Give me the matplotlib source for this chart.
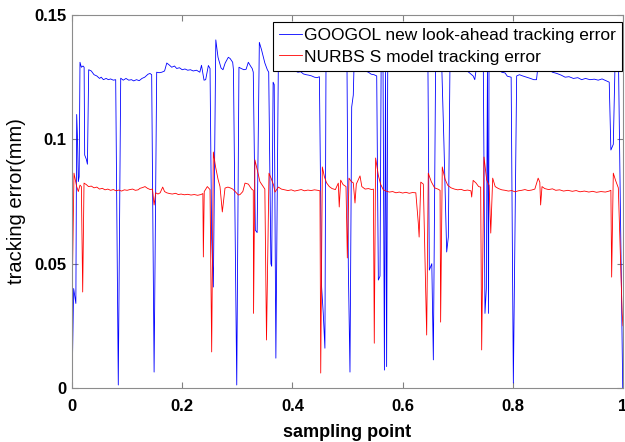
import matplotlib
matplotlib.use("Agg")
import matplotlib.pyplot as plt

plt.rcParams['font.family'] = ['Liberation Sans', 'DejaVu Sans']

# GOOGOL new look-ahead tracking error (blue)
googol_x = [0.000, 0.003, 0.007, 0.0085, 0.010, 0.0115, 0.013, 0.0145, 0.017, 0.020,
            0.022, 0.023, 0.026, 0.028, 0.0303, 0.035, 0.040, 0.045, 0.050, 0.053,
            0.057, 0.062, 0.066, 0.070, 0.075, 0.0793, 0.084, 0.0884, 0.093, 0.098,
            0.103, 0.108, 0.112, 0.117, 0.122, 0.127, 0.132, 0.138, 0.1416, 0.1446,
            0.149, 0.1537, 0.158, 0.163, 0.168, 0.172, 0.176, 0.181, 0.186, 0.190,
            0.195, 0.200, 0.205, 0.210, 0.215, 0.220, 0.226, 0.232, 0.235, 0.2396,
            0.2426, 0.2475, 0.2505, 0.2535, 0.2565, 0.261, 0.265, 0.2705, 0.274, 0.278,
            0.2837, 0.287, 0.2916, 0.293, 0.299, 0.303, 0.307, 0.312, 0.316, 0.320,
            0.324, 0.327, 0.329, 0.3327, 0.336, 0.340, 0.344, 0.350, 0.3545, 0.357,
            0.361, 0.3624, 0.365, 0.367, 0.370, 0.3745, 0.380, 0.385, 0.390, 0.395,
            0.400, 0.405, 0.410, 0.415, 0.420, 0.425, 0.430, 0.435, 0.440, 0.445,
            0.449, 0.453, 0.456, 0.459, 0.461, 0.470, 0.480, 0.490, 0.499, 0.5015,
            0.5045, 0.5076, 0.5105, 0.512, 0.520, 0.527, 0.532, 0.538, 0.543, 0.548,
            0.553, 0.556, 0.559, 0.561, 0.5645, 0.567, 0.569, 0.571, 0.573, 0.580,
            0.590, 0.600, 0.610, 0.620, 0.630, 0.640, 0.646, 0.6485, 0.653, 0.6558,
            0.660, 0.665, 0.671, 0.675, 0.680, 0.683, 0.686, 0.692, 0.700, 0.710,
            0.720, 0.728, 0.731, 0.734, 0.740, 0.7465, 0.7495, 0.752, 0.754, 0.756,
            0.7568, 0.760, 0.770, 0.780, 0.786, 0.790, 0.797, 0.801, 0.807, 0.812,
            0.818, 0.825, 0.832, 0.838, 0.843, 0.846, 0.852, 0.858, 0.865, 0.872,
            0.880, 0.888, 0.895, 0.902, 0.910, 0.918, 0.925, 0.932, 0.940, 0.948,
            0.955, 0.962, 0.970, 0.975, 0.978, 0.9824, 0.9855, 0.9895, 0.992, 0.9995]
googol_y = [0.000, 0.040, 0.034, 0.110, 0.100, 0.083, 0.085, 0.131, 0.129, 0.1295,
            0.129, 0.0937, 0.092, 0.090, 0.128, 0.1275, 0.126, 0.1255, 0.1245, 0.125,
            0.124, 0.1245, 0.124, 0.1243, 0.1238, 0.124, 0.0012, 0.1246, 0.1238, 0.1245,
            0.1238, 0.124, 0.1235, 0.124, 0.1236, 0.1245, 0.125, 0.1262, 0.1265, 0.126,
            0.0064, 0.127, 0.1268, 0.127, 0.1275, 0.1307, 0.130, 0.129, 0.1295, 0.1285,
            0.1288, 0.128, 0.1283, 0.1278, 0.128, 0.1275, 0.1278, 0.127, 0.1298, 0.1238,
            0.124, 0.1297, 0.1285, 0.060, 0.0406, 0.140, 0.133, 0.1287, 0.128, 0.1307,
            0.133, 0.1325, 0.131, 0.128, 0.0012, 0.129, 0.1285, 0.128, 0.1282, 0.131,
            0.1295, 0.1285, 0.127, 0.0635, 0.0625, 0.139, 0.136, 0.1307, 0.128, 0.127,
            0.050, 0.049, 0.123, 0.122, 0.012, 0.131, 0.1305, 0.1298, 0.129, 0.128,
            0.1282, 0.1275, 0.127, 0.1272, 0.1263, 0.126, 0.1258, 0.1255, 0.125, 0.1248,
            0.1252, 0.0406, 0.030, 0.016, 0.132, 0.133, 0.132, 0.1325, 0.132, 0.0487,
            0.0064, 0.113, 0.1178, 0.131, 0.1295, 0.128, 0.1275, 0.127, 0.1262, 0.126,
            0.1255, 0.0434, 0.045, 0.128, 0.127, 0.0072, 0.127, 0.0086, 0.128, 0.1285,
            0.128, 0.1278, 0.1282, 0.128, 0.1285, 0.128, 0.1285, 0.0474, 0.050, 0.0113,
            0.132, 0.131, 0.130, 0.0985, 0.0547, 0.0607, 0.131, 0.130, 0.129, 0.1285,
            0.127, 0.1255, 0.124, 0.129, 0.130, 0.129, 0.030, 0.040, 0.129, 0.030,
            0.128, 0.129, 0.1285, 0.127, 0.1267, 0.1254, 0.125, 0.002, 0.1255, 0.126,
            0.1255, 0.125, 0.1245, 0.124, 0.124, 0.130, 0.129, 0.1288, 0.128, 0.127,
            0.1265, 0.1258, 0.125, 0.1252, 0.1245, 0.1248, 0.124, 0.1245, 0.124, 0.1242,
            0.1238, 0.1243, 0.1235, 0.123, 0.0957, 0.098, 0.130, 0.129, 0.128, 0.000]

# NURBS S model tracking error (red)
nurbs_x = [0.000, 0.0005, 0.0036, 0.0085, 0.0115, 0.0145, 0.017, 0.0194, 0.0218, 0.026,
           0.030, 0.035, 0.040, 0.045, 0.050, 0.055, 0.060, 0.065, 0.070, 0.075,
           0.080, 0.085, 0.090, 0.095, 0.100, 0.105, 0.110, 0.115, 0.120, 0.1234,
           0.128, 0.1325, 0.137, 0.142, 0.146, 0.149, 0.152, 0.156, 0.160, 0.1646,
           0.168, 0.172, 0.177, 0.182, 0.188, 0.193, 0.198, 0.204, 0.210, 0.216,
           0.222, 0.228, 0.234, 0.2375, 0.2384, 0.240, 0.2456, 0.2505, 0.2535, 0.2565,
           0.2605, 0.265, 0.2686, 0.2728, 0.2777, 0.283, 0.288, 0.2916, 0.297, 0.302,
           0.305, 0.310, 0.314, 0.320, 0.326, 0.329, 0.3295, 0.332, 0.337, 0.341,
           0.350, 0.353, 0.3575, 0.362, 0.366, 0.3684, 0.3745, 0.380, 0.386, 0.392,
           0.398, 0.404, 0.410, 0.416, 0.422, 0.428, 0.434, 0.440, 0.446, 0.450,
           0.4514, 0.4543, 0.458, 0.462, 0.467, 0.472, 0.478, 0.4833, 0.485, 0.4876,
           0.492, 0.4973, 0.4997, 0.5027, 0.507, 0.5105, 0.5136, 0.516, 0.5227, 0.526,
           0.532, 0.538, 0.544, 0.547, 0.5486, 0.551, 0.556, 0.560, 0.565, 0.570,
           0.576, 0.582, 0.588, 0.594, 0.600, 0.606, 0.612, 0.618, 0.624, 0.6285,
           0.630, 0.633, 0.6376, 0.6437, 0.6466, 0.652, 0.658, 0.664, 0.668, 0.669,
           0.672, 0.677, 0.682, 0.688, 0.694, 0.700, 0.706, 0.712, 0.718, 0.724,
           0.7254, 0.728, 0.733, 0.738, 0.7417, 0.7435, 0.7477, 0.7526, 0.757, 0.760,
           0.7635, 0.768, 0.774, 0.780, 0.786, 0.792, 0.798, 0.804, 0.810, 0.816,
           0.822, 0.828, 0.834, 0.840, 0.846, 0.849, 0.8505, 0.853, 0.858, 0.865,
           0.872, 0.878, 0.885, 0.892, 0.900, 0.908, 0.915, 0.922, 0.930, 0.938,
           0.945, 0.952, 0.960, 0.968, 0.975, 0.978, 0.9794, 0.9824, 0.9865, 0.9915,
           0.9985, 1.000]
nurbs_y = [0.000, 0.040, 0.0864, 0.081, 0.079, 0.0816, 0.081, 0.0386, 0.0824, 0.0818,
           0.081, 0.0812, 0.0805, 0.0808, 0.0800, 0.0803, 0.0797, 0.080, 0.0795, 0.0798,
           0.0793, 0.0796, 0.0792, 0.0797, 0.0795, 0.0798, 0.080, 0.0795, 0.0797, 0.0803,
           0.0806, 0.081, 0.0803, 0.0798, 0.080, 0.0736, 0.0785, 0.078, 0.0785, 0.0808,
           0.079, 0.0785, 0.0782, 0.078, 0.0783, 0.0778, 0.078, 0.0777, 0.0779, 0.0776,
           0.0778, 0.0775, 0.0778, 0.0782, 0.0527, 0.079, 0.081, 0.0798, 0.0145, 0.0949,
           0.089, 0.084, 0.081, 0.0708, 0.0804, 0.0808, 0.0804, 0.0800, 0.0788, 0.0776,
           0.0778, 0.079, 0.0824, 0.082, 0.080, 0.0795, 0.030, 0.0917, 0.087, 0.083,
           0.080, 0.0193, 0.0864, 0.084, 0.0815, 0.0788, 0.0808, 0.080, 0.0797, 0.0794,
           0.0797, 0.0792, 0.0795, 0.0798, 0.0793, 0.0796, 0.0794, 0.0797, 0.0795, 0.0793,
           0.006, 0.0889, 0.085, 0.0825, 0.081, 0.0802, 0.0798, 0.0824, 0.0728, 0.0836,
           0.0818, 0.081, 0.0523, 0.0844, 0.083, 0.0825, 0.0744, 0.082, 0.0853, 0.081,
           0.080, 0.0802, 0.0798, 0.080, 0.018, 0.0925, 0.0855, 0.082, 0.0797, 0.0792,
           0.0788, 0.079, 0.0785, 0.0788, 0.0784, 0.0787, 0.0783, 0.0786, 0.0785, 0.0663,
           0.0607, 0.0828, 0.082, 0.0213, 0.0864, 0.083, 0.0805, 0.080, 0.0795, 0.0265,
           0.0889, 0.084, 0.0815, 0.0805, 0.0800, 0.0797, 0.0799, 0.0794, 0.0796, 0.0793,
           0.0768, 0.0835, 0.0825, 0.081, 0.0808, 0.0153, 0.0929, 0.0837, 0.0815, 0.0623,
           0.0844, 0.081, 0.0802, 0.0797, 0.0795, 0.0792, 0.0794, 0.0789, 0.0793, 0.0795,
           0.0798, 0.0794, 0.0796, 0.080, 0.0844, 0.0828, 0.0736, 0.081, 0.0802, 0.0798,
           0.0801, 0.0795, 0.0797, 0.0792, 0.0795, 0.0791, 0.0794, 0.0789, 0.0792, 0.0788,
           0.0791, 0.0787, 0.079, 0.0788, 0.0792, 0.0795, 0.0446, 0.0864, 0.0835, 0.0805,
           0.030, 0.025]

x_ticks = [0, 0.2, 0.4, 0.6, 0.8, 1]
x_tick_labels = ['0', '0.2', '0.4', '0.6', '0.8', '1']
y_ticks = [0, 0.05, 0.1, 0.15]
y_tick_labels = ['0', '0.05', '0.1', '0.15']

fig = plt.figure(figsize=(6.25, 4.42), dpi=100)
ax = fig.add_axes([0.1152, 0.1222, 0.8816, 0.8438])

ax.plot(googol_x, googol_y, color='#0000ff', lw=0.6,
        label='GOOGOL new look-ahead tracking error')
ax.plot(nurbs_x, nurbs_y, color='#ff0000', lw=0.6,
        label='NURBS S model tracking error')

ax.set_xlim(0, 1)
ax.set_ylim(0, 0.15)
ax.set_xticks(x_ticks)
ax.set_xticklabels(x_tick_labels, fontsize=12, fontweight='bold')
ax.set_yticks(y_ticks)
ax.set_yticklabels(y_tick_labels, fontsize=12, fontweight='bold')
ax.tick_params(direction='in', top=True, right=True, length=4, color='0.5')
ax.tick_params(axis='x', pad=8)
ax.tick_params(axis='y', pad=4)
for s in ax.spines.values():
    s.set_color('0.55')
    s.set_linewidth(0.8)

ax.set_xlabel('sampling point', fontsize=13, fontweight='bold', labelpad=7)
ax.set_ylabel('tracking error(mm)', fontsize=14.5, labelpad=6)

leg = ax.legend(loc='upper right', bbox_to_anchor=(0.999, 0.981), borderaxespad=0,
                fontsize=12.5, fancybox=False, framealpha=1, edgecolor='black',
                handlelength=1.3, handletextpad=0.15, borderpad=0.35, labelspacing=0.35)
leg.get_frame().set_linewidth(0.8)

fig.savefig('out.png', dpi=100)
